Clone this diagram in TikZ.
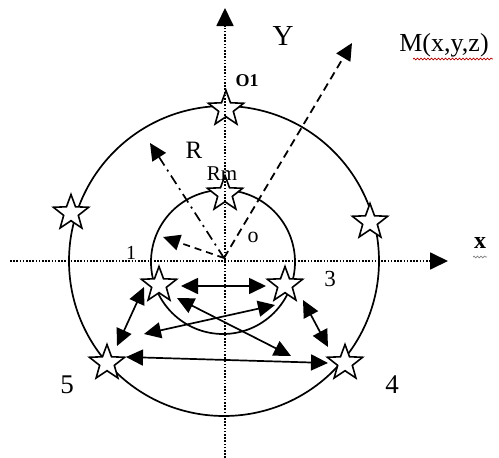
\documentclass[tikz,border=0pt]{standalone}
\usepackage{fontspec}
\setmainfont{Liberation Serif}
\usetikzlibrary{shapes.geometric,arrows.meta,decorations.pathmorphing}
\tikzset{
  starnode/.style={star, star points=5, star point ratio=2.4, minimum size=37pt, inner sep=0pt, draw=black, fill=white, line width=1.6pt},
  dbl/.style={line width=1.7pt, {Triangle[length=17pt,width=16pt]}-{Triangle[length=17pt,width=16pt]}},
  axisline/.style={line width=1.8pt, dash pattern=on 1.6pt off 1.6pt, -{Triangle[length=18pt,width=17pt]}},
  ring/.style={line width=1.7pt},
  lbl/.style={inner sep=0pt, text=black},
  squig/.style={decorate, decoration={snake, amplitude=0.9pt, segment length=3.5pt}, line width=0.7pt}
}
\begin{document}
\begin{tikzpicture}[x=1pt,y=-1pt]
\useasboundingbox (0,0) rectangle (499,458);
% circles
\node[circle, ring, draw, minimum size=310pt, inner sep=0pt] (outer) at (224,261) {};
\node[circle, ring, draw, minimum size=144pt, inner sep=0pt] (inner) at (223,262) {};
% axis ends
\coordinate (ybot) at (225,458);
\coordinate (ytop) at (225,8);
\coordinate (xleft) at (10,261);
\coordinate (xright) at (448,261);
% stars
\node[starnode] (so1) at (226,109) {};
\node[starnode] (srm) at (225,194) {};
\node[starnode] (sl) at (71,213) {};
\node[starnode] (sr) at (370,222) {};
\node[starnode] (s1) at (159,285) {};
\node[starnode] (s3) at (285,285) {};
\node[starnode] (s5) at (107,363) {};
\node[starnode] (s4) at (345,363) {};
% axes
\draw[axisline] (ybot) -- (ytop);
\draw[axisline] (xleft) -- (xright);
% radius lines
\coordinate (Mtip) at (352,43);
\coordinate (Rtip) at (150,143);
\coordinate (rmtip) at (163,237);
\coordinate (O2) at (224,258);
\draw[line width=1.8pt, dash pattern=on 8pt off 5pt, -{Triangle[length=17pt,width=16pt]}] (O2) -- (Mtip);
\draw[line width=1.7pt, dash pattern=on 10pt off 5pt on 2pt off 5pt, -{Triangle[length=17pt,width=16pt]}] (O2) -- (Rtip);
\draw[line width=1.7pt, dash pattern=on 7pt off 5pt, -{Triangle[length=17pt,width=16pt]}] (O2) -- (rmtip);
% arrow end points
\coordinate (a13l) at (181,286); \coordinate (a13r) at (266,286);
\coordinate (a15u) at (144,287); \coordinate (a15d) at (117,346);
\coordinate (a34u) at (303,300); \coordinate (a34d) at (328,347);
\coordinate (a54l) at (126,357); \coordinate (a54r) at (328,363);
\coordinate (c1a) at (177,298); \coordinate (c1b) at (291,356);
\coordinate (c2a) at (275,305); \coordinate (c2b) at (144,334);
\draw[dbl] (a13l) -- (a13r);
\draw[dbl] (a15u) -- (a15d);
\draw[dbl] (a34u) -- (a34d);
\draw[dbl] (a54l) -- (a54r);
\draw[dbl] (c1a) -- (c1b);
\draw[dbl] (c2a) -- (c2b);
% labels
\node[lbl, font=\fontsize{29}{31}\selectfont] (lY) at (283,36) {Y};
\node[lbl, font=\bfseries\fontsize{18}{20}\selectfont] (lo1) at (247,81) {O1};
\node[lbl, font=\fontsize{26}{28}\selectfont] (lM) at (444,45) {M(x,y,z)};
\node[lbl, font=\fontsize{25}{27}\selectfont] (lR) at (194,150) {R};
\node[lbl, font=\fontsize{21}{23}\selectfont] (lRm) at (222,174) {Rm};
\node[lbl, font=\fontsize{22}{24}\selectfont] (lo) at (253,237) {o};
\node[lbl, font=\fontsize{20}{22}\selectfont] (l1) at (131,253) {1};
\node[lbl, font=\fontsize{23}{25}\selectfont] (l3) at (330,279) {3};
\node[lbl, font=\fontsize{27}{29}\selectfont] (l5) at (67,385) {5};
\node[lbl, font=\fontsize{27}{29}\selectfont] (l4) at (392,385) {4};
\node[lbl, font=\bfseries\fontsize{24}{26}\selectfont] (lx) at (480,243) {x};
% spell-check squiggles
\coordinate (sqMa) at (413,59); \coordinate (sqMb) at (493,59);
\coordinate (sqxa) at (473,257); \coordinate (sqxb) at (487,257);
\draw[squig, color=red!70!black] (sqMa) -- (sqMb);
\draw[squig, color=gray] (sqxa) -- (sqxb);
\end{tikzpicture}
\end{document}
